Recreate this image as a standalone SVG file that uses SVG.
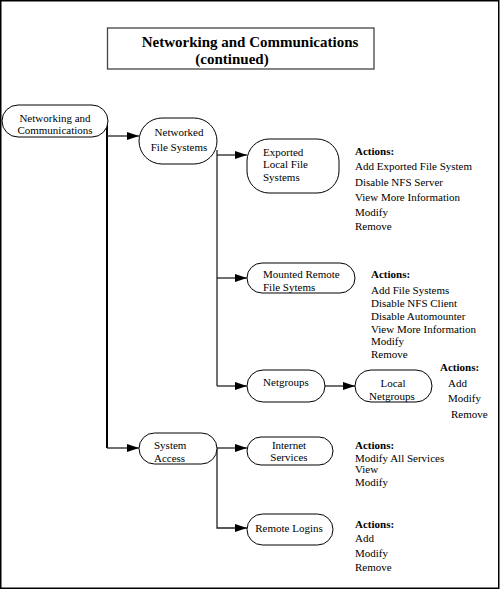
<svg xmlns="http://www.w3.org/2000/svg" width="500" height="590" viewBox="0 0 500 590">
<style>
text{font-family:'Liberation Serif','DejaVu Serif',serif}
.t{font-size:11px;fill:#000}
.node{fill:#fff;stroke:#000;stroke-width:1}
.c{text-anchor:middle}
.b{font-weight:bold}
.title{font-size:15px;font-weight:bold;fill:#000;text-anchor:middle}
.ln{fill:none;stroke:#222;stroke-width:1.3}
.main{fill:none;stroke:#000;stroke-width:2}
</style>
<defs>
<marker id="arr" markerUnits="userSpaceOnUse" markerWidth="13" markerHeight="9" refX="12" refY="4" orient="auto">
<path d="M0,0 L12,4 L0,8 z" fill="#000"/>
</marker>
</defs>
<rect x="0.75" y="0.75" width="498" height="587.5" fill="#fff" stroke="#000" stroke-width="1.5"/>
<g id="title">
<rect x="107.5" y="28" width="266.5" height="41" fill="#fff" stroke="#444" stroke-width="1.3"/>
<text class="title" x="250" y="47">Networking and Communications</text>
<text class="title" x="232" y="64">(continued)</text>
</g>
<g id="connectors">
<path class="main" d="M107,121 V448"/>
<path class="ln" d="M107,136 H139" marker-end="url(#arr)"/>
<path class="ln" d="M107,448 H139" marker-end="url(#arr)"/>
<path class="ln" d="M217,150 V386"/>
<path class="ln" d="M217,155 H247" marker-end="url(#arr)"/>
<path class="ln" d="M217,278 H247" marker-end="url(#arr)"/>
<path class="ln" d="M217,386 H247" marker-end="url(#arr)"/>
<path class="ln" d="M325,386 H355" marker-end="url(#arr)"/>
<path class="ln" d="M217,448 H247" marker-end="url(#arr)"/>
<path class="ln" d="M217,448 V528 H247" marker-end="url(#arr)"/>
</g>
<g id="n-netcomm">
<rect class="node" x="2" y="105" width="106" height="32" rx="16"/>
<text class="t c" x="55" y="122">Networking and</text>
<text class="t c" x="55" y="134">Communications</text>
</g>
<g id="n-nfs">
<rect class="node" x="139" y="118" width="78" height="46" rx="23"/>
<text class="t c" x="179" y="136">Networked</text>
<text class="t c" x="179" y="151">File Systems</text>
</g>
<g id="n-exported">
<rect class="node" x="247" y="139" width="92" height="54" rx="22"/>
<text class="t" x="263" y="156">Exported</text>
<text class="t" x="263" y="168">Local File</text>
<text class="t" x="263" y="181">Systems</text>
</g>
<g id="a-exported">
<text class="t b" x="355" y="155">Actions:</text>
<text class="t" x="355" y="170">Add Exported File System</text>
<text class="t" x="355" y="186">Disable NFS Server</text>
<text class="t" x="355" y="201">View More Information</text>
<text class="t" x="355" y="216">Modify</text>
<text class="t" x="355" y="230">Remove</text>
</g>
<g id="n-mounted">
<rect class="node" x="247" y="263" width="108" height="30" rx="15"/>
<text class="t" x="263" y="278">Mounted Remote</text>
<text class="t" x="263" y="291">File Sytems</text>
</g>
<g id="a-mounted">
<text class="t b" x="371" y="278">Actions:</text>
<text class="t" x="371" y="294">Add File Systems</text>
<text class="t" x="371" y="307">Disable NFS Client</text>
<text class="t" x="371" y="320">Disable Automounter</text>
<text class="t" x="371" y="333">View More Information</text>
<text class="t" x="371" y="345">Modify</text>
<text class="t" x="371" y="358">Remove</text>
</g>
<g id="n-netgroups">
<rect class="node" x="247" y="370" width="78" height="32" rx="16"/>
<text class="t c" x="286" y="386">Netgroups</text>
</g>
<g id="n-localnetgroups">
<rect class="node" x="355" y="370" width="77" height="32" rx="16"/>
<text class="t c" x="393" y="387">Local</text>
<text class="t c" x="392" y="400">Netgroups</text>
</g>
<g id="a-local">
<text class="t b" x="440" y="371">Actions:</text>
<text class="t" x="448" y="387">Add</text>
<text class="t" x="448" y="402">Modify</text>
<text class="t" x="451" y="418">Remove</text>
</g>
<g id="n-sysaccess">
<rect class="node" x="139" y="433" width="78" height="31" rx="15.5"/>
<text class="t" x="154" y="449">System</text>
<text class="t" x="154" y="462">Access</text>
</g>
<g id="n-internet">
<rect class="node" x="247" y="437" width="86" height="28" rx="14"/>
<text class="t c" x="289" y="449">Internet</text>
<text class="t c" x="289" y="461">Services</text>
</g>
<g id="a-internet">
<text class="t b" x="355" y="449">Actions:</text>
<text class="t" x="355" y="462">Modify All Services</text>
<text class="t" x="355" y="473">View</text>
<text class="t" x="355" y="486">Modify</text>
</g>
<g id="n-remote">
<rect class="node" x="247" y="514" width="86" height="31" rx="15.5"/>
<text class="t c" x="289" y="532">Remote Logins</text>
</g>
<g id="a-remote">
<text class="t b" x="355" y="528">Actions:</text>
<text class="t" x="355" y="542">Add</text>
<text class="t" x="355" y="557">Modify</text>
<text class="t" x="355" y="571">Remove</text>
</g>
</svg>
